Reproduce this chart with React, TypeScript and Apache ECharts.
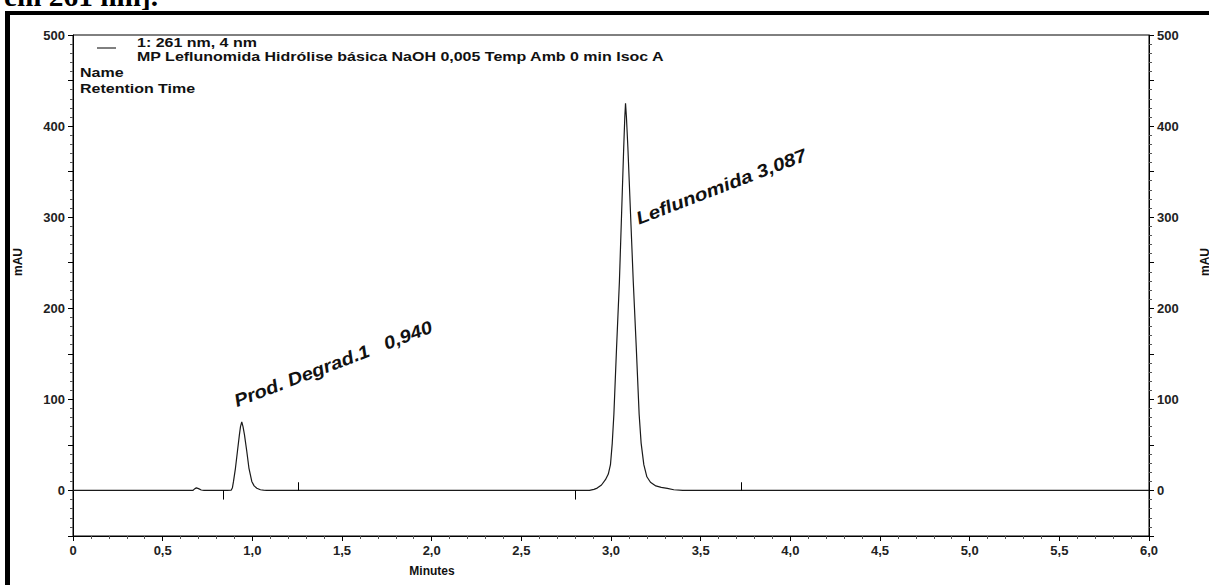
import React, { useEffect, useRef } from "react";
import * as echarts from "echarts";

// ---- data (minutes, mAU) ----
const leadBaseline: number[][] = [[0, 0], [0.66, 0]];
const bumpTrace: number[][] = [[0.668, 0], [0.68, 2], [0.688, 2.8], [0.7, 2], [0.715, 0.5], [0.731, 0]];
const degradTrace: number[][] = [
  [0.86, 0], [0.882, 0.3], [0.889, 3], [0.895, 9.9], [0.906, 24.6], [0.917, 43], [0.928, 61.3], [0.934, 70],
  [0.941, 75.2], [0.948, 70], [0.956, 61.3], [0.969, 43], [0.981, 24.6], [0.997, 9.9], [1.01, 5],
  [1.025, 2.5], [1.045, 0.8], [1.062, 0.3], [1.08, 0],
];
const mainTrace: number[][] = [
  [2.88, 0], [2.905, 1.2], [2.923, 2.6], [2.947, 6], [2.969, 11.8], [2.985, 18], [2.997, 28.3], [3.007, 52],
  [3.016, 83.4], [3.031, 156.7], [3.047, 230], [3.059, 303.6], [3.071, 377], [3.077, 410], [3.081, 425],
  [3.086, 410], [3.094, 377], [3.109, 303.6], [3.124, 230], [3.141, 156.7], [3.157, 83.4], [3.168, 52],
  [3.183, 28.3], [3.2, 15], [3.22, 9], [3.25, 5], [3.28, 3.3], [3.314, 2.2], [3.35, 0.8], [3.4, 0],
];
const tailBaseline: number[][] = [[6, 0]];
// integration markers: [time, end value]
const markers: number[][] = [[0.839, -10], [1.254, 9], [2.802, -10], [3.728, 9]];

const legendLine1 = "1: 261 nm, 4 nm";
const legendLine2 = "MP Leflunomida Hidrólise básica NaOH 0,005 Temp Amb 0 min Isoc A";
const peakLabel1 = "Prod. Degrad.1   0,940";
const peakLabel2 = "Leflunomida 3,087";

const FONT = "'Liberation Sans', Arial, sans-serif";

export default function App() {
  const ref = useRef<HTMLDivElement>(null);
  useEffect(() => {
    if (!ref.current) return;
    const chart = echarts.init(ref.current, undefined, { renderer: "svg" });
    const trace = [...leadBaseline, ...bumpTrace, ...degradTrace, ...mainTrace, ...tailBaseline];
    const yAxisBase = (pos: "left" | "right") => ({
      type: "value" as const,
      position: pos,
      min: -50,
      max: 500,
      interval: 50,
      axisLine: { show: true, lineStyle: { color: "#000", width: 1 } },
      axisTick: { show: true, length: 5, lineStyle: { color: "#000" } },
      minorTick: { show: true, splitNumber: 5, length: 3, lineStyle: { color: "#555" } },
      splitLine: { show: false },
      axisLabel: {
        formatter: (v: number) => (v >= 0 && v % 100 === 0 ? String(v) : ""),
        fontFamily: FONT,
        fontWeight: "bold",
        fontSize: 13,
        color: "#222",
        margin: 8,
      },
    });
    const legendStyle = (text: string) => ({
      text,
      font: `bold 13px ${FONT}`,
      fill: "#111",
      verticalAlign: "middle",
    });
    chart.setOption({
      animation: false,
      backgroundColor: "#fff",
      grid: { left: 73, right: 60, top: 35, bottom: 49, show: true, borderColor: "#000", borderWidth: 1 },
      xAxis: {
        type: "value",
        min: 0,
        max: 6,
        interval: 0.5,
        axisLine: { show: true, onZero: false, lineStyle: { color: "#000" } },
        axisTick: { show: true, length: 5, lineStyle: { color: "#000" } },
        minorTick: { show: true, splitNumber: 5, length: 3, lineStyle: { color: "#555" } },
        splitLine: { show: false },
        axisLabel: {
          formatter: (v: number) => (v === 0 ? "0" : v.toFixed(1).replace(".", ",")),
          fontFamily: FONT,
          fontWeight: "bold",
          fontSize: 13,
          color: "#222",
          margin: 8,
        },
      },
      yAxis: [yAxisBase("left"), yAxisBase("right")],
      series: [
        {
          type: "line",
          data: trace,
          showSymbol: false,
          symbol: "none",
          lineStyle: { color: "#1a1a1a", width: 1.2 },
          markLine: {
            silent: true,
            symbol: "none",
            label: { show: false },
            lineStyle: { color: "#000", width: 1, type: "solid" },
            data: markers.map((m) => [{ coord: [m[0], 0] }, { coord: [m[0], m[1]] }]),
          },
        },
      ],
      graphic: [
        {
          type: "text",
          x: 4,
          y: 10,
          scaleX: 1.05,
          style: { text: "em 261 nm].", font: "bold 28px 'Liberation Serif', serif", fill: "#000", verticalAlign: "bottom" },
        },
        { type: "rect", shape: { x: 5, y: 11, width: 1204, height: 4 }, style: { fill: "#000" } },
        { type: "rect", shape: { x: 5, y: 11, width: 5, height: 574 }, style: { fill: "#000" } },
        { type: "line", shape: { x1: 97, y1: 48, x2: 116, y2: 48 }, style: { stroke: "#000", lineWidth: 1 } },
        { type: "text", x: 137, y: 43, scaleX: 1.23, style: legendStyle(legendLine1) },
        { type: "text", x: 137, y: 57, scaleX: 1.23, style: legendStyle(legendLine2) },
        { type: "text", x: 80, y: 73, scaleX: 1.23, style: legendStyle("Name") },
        { type: "text", x: 80, y: 89, scaleX: 1.23, style: legendStyle("Retention Time") },
        {
          type: "text", x: 238, y: 410, rotation: (21 * Math.PI) / 180, scaleX: 1.12,
          style: { text: peakLabel1, font: `italic bold 18px ${FONT}`, fill: "#111", verticalAlign: "bottom" },
        },
        {
          type: "text", x: 640, y: 227, rotation: (21 * Math.PI) / 180, scaleX: 1.15,
          style: { text: peakLabel2, font: `italic bold 18px ${FONT}`, fill: "#111", verticalAlign: "bottom" },
        },
        {
          type: "text", x: 432, y: 571,
          style: { text: "Minutes", font: `bold 12px ${FONT}`, fill: "#111", align: "center", verticalAlign: "middle" },
        },
        {
          type: "text", x: 18, y: 262, rotation: Math.PI / 2,
          style: { text: "mAU", font: `bold 12px ${FONT}`, fill: "#111", align: "center", verticalAlign: "middle" },
        },
        {
          type: "text", x: 1205, y: 262, rotation: Math.PI / 2,
          style: { text: "mAU", font: `bold 12px ${FONT}`, fill: "#111", align: "center", verticalAlign: "middle" },
        },
      ],
    });
    return () => chart.dispose();
  }, []);
  return <div ref={ref} style={{ position: "fixed", left: 0, top: 0, width: 1209, height: 585 }} />;
}
